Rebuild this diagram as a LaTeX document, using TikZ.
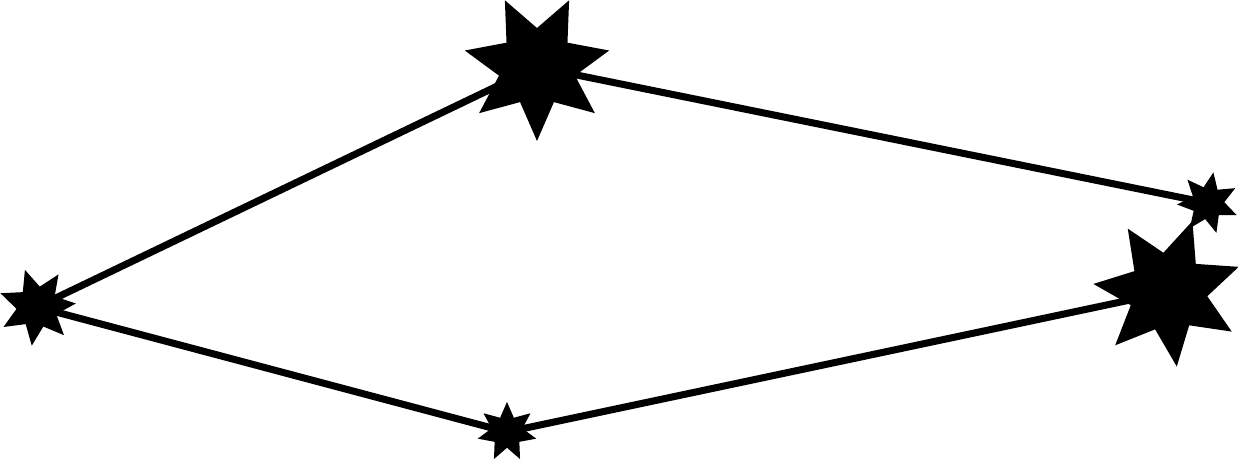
\documentclass[tikz,border=0pt]{standalone}
\usepackage{tikz}
\usetikzlibrary{shapes.geometric}

\begin{document}
\begin{tikzpicture}[x=0.01cm,y=-0.01cm,
    sstar/.style={star,star points=7,star point ratio=1.9,fill=black,draw=none,inner sep=0pt},
    link/.style={line width=2pt}]
  \useasboundingbox (0,0) rectangle (1238,462);
  \node[sstar,minimum size=1.48cm,shape border rotate=180] (top) at (537,67) {};
  \node[sstar,minimum size=0.78cm,shape border rotate=18] (left) at (37,307) {};
  \node[sstar,minimum size=0.6cm] (bottom) at (507,432) {};
  \node[sstar,minimum size=1.5cm,shape border rotate=-19] (rbig) at (1168,292) {};
  \node[sstar,minimum size=0.62cm,shape border rotate=-10] (rsmall) at (1208,203) {};

  \draw[link] (left.center) -- (top.center);
  \draw[link] (top.center) -- (rsmall.center);
  \draw[link] (left.center) -- (bottom.center);
  \draw[link] (bottom.center) -- (rbig.center);
\end{tikzpicture}
\end{document}
